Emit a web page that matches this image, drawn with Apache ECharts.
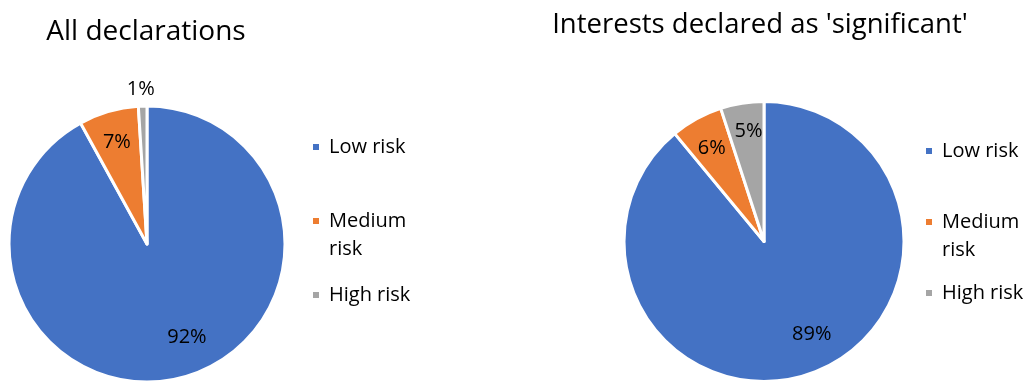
<!DOCTYPE html>
<html>
<head>
<meta charset="utf-8">
<script src="https://cdn.jsdelivr.net/npm/echarts@6/dist/echarts.min.js"></script>
<style>
  html, body { margin: 0; padding: 0; background: #fff; }
  #chart { width: 1028px; height: 381px; }
</style>
</head>
<body>
<div id="chart"></div>
<script>
// Risk categories and their shares (percent) for the two groups of declarations
const categories = ['Low risk', 'Medium risk', 'High risk'];
const allDeclarations = [92, 7, 1];
const significantInterests = [89, 6, 5];
const colors = ['#4472C4', '#ED7D31', '#A5A5A5'];

// Per-slice label nudges so the percentages sit where they read best
const allLabelOffsets = [[22, 24], [-10, -33], [-4, -83]];
const sigLabelOffsets = [[23, 24], [-17, -29], [-4, -38]];

const FONT = '"Open Sans"';

function pieData(values, offsets) {
  return values.map((v, i) => ({
    name: categories[i],
    value: v,
    itemStyle: { color: colors[i] },
    label: { offset: offsets[i] }
  }));
}

function pieSeries(center, radius, values, offsets) {
  return {
    type: 'pie',
    center: center,
    radius: radius,
    startAngle: 90,
    clockwise: true,
    silent: true,
    itemStyle: { borderColor: '#fff', borderWidth: 3 },
    label: {
      show: true,
      position: 'inside',
      formatter: '{c}%',
      fontFamily: FONT,
      fontSize: 20,
      color: '#000'
    },
    labelLine: { show: false },
    data: pieData(values, offsets)
  };
}

function legendFor(left, top, gap) {
  return {
    orient: 'vertical',
    left: left,
    top: top,
    padding: 0,
    icon: 'rect',
    itemWidth: 8,
    itemHeight: 8,
    itemGap: gap,
    selectedMode: false,
    data: categories,
    formatter: name => name === 'Medium risk' ? '\nMedium\nrisk' : name,
    textStyle: {
      fontFamily: FONT,
      fontSize: 20,
      lineHeight: 28,
      color: '#000',
      padding: [0, 0, 0, 4]
    }
  };
}

const chart = echarts.init(document.getElementById('chart'), null, { renderer: 'canvas' });
chart.setOption({
  animation: false,
  backgroundColor: '#fff',
  color: colors,
  title: [
    {
      text: 'All declarations',
      left: 146, top: 15, textAlign: 'center', padding: 0,
      textStyle: { fontFamily: FONT, fontSize: 28, lineHeight: 34, fontWeight: 'normal', color: '#000' }
    },
    {
      text: "Interests declared as 'significant'",
      left: 760, top: 8, textAlign: 'center', padding: 0,
      textStyle: { fontFamily: FONT, fontSize: 27.5, lineHeight: 34, fontWeight: 'normal', color: '#000' }
    }
  ],
  legend: [legendFor(311, 133, 18), legendFor(924, 137, 15)],
  series: [
    pieSeries([147, 244], 138, allDeclarations, allLabelOffsets),
    pieSeries([764, 241.5], 140, significantInterests, sigLabelOffsets)
  ]
});
</script>
</body>
</html>
